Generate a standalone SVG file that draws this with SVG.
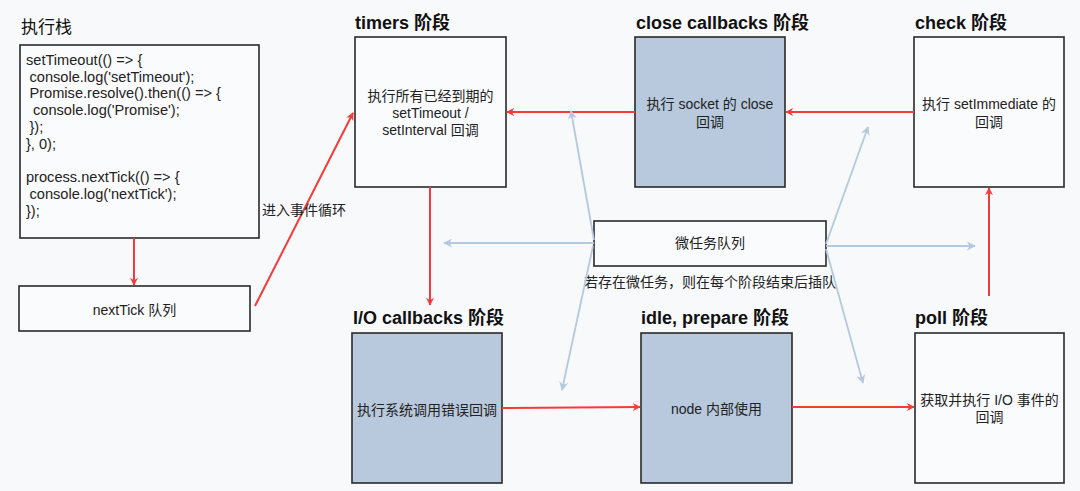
<svg xmlns="http://www.w3.org/2000/svg" width="1080" height="491" viewBox="0 0 1080 491">
<style>
text{font-family:"Liberation Sans","Noto Sans CJK SC",sans-serif;fill:#222;}
.t{font-size:18px;font-weight:bold;fill:#111;}
.b{font-size:14px;text-anchor:middle;}
.c{font-size:14px;}
.k{font-size:14.6px;}
.box{fill:#fafbfc;stroke:#2a2a2a;stroke-width:1.6;}
.blue{fill:#b8c9dd;stroke:#2a2a2a;stroke-width:1.6;}
.r{stroke:#f53a3a;stroke-width:2;fill:none;marker-end:url(#ar);}
.l{stroke:#b5c9de;stroke-width:1.8;fill:none;marker-end:url(#al);}
</style>
<defs>
<marker id="ar" viewBox="0 0 10 10" refX="9" refY="5" markerWidth="8" markerHeight="8" markerUnits="userSpaceOnUse" orient="auto"><path d="M0,0 L10,5 L0,10 L3,5 Z" fill="#f53a3a"/></marker>
<marker id="al" viewBox="0 0 10 10" refX="9" refY="5" markerWidth="9" markerHeight="9" markerUnits="userSpaceOnUse" orient="auto"><path d="M0,0 L10,5 L0,10 L3,5 Z" fill="#b5c9de"/></marker>
</defs>
<rect width="1080" height="491" fill="#f8f9fb"/>
<g id="stack">
<text x="21" y="33" style="font-size:17px;fill:#111">执行栈</text>
<rect class="box" x="20" y="45" width="239" height="193"/>
<text class="k" x="26" y="65">setTimeout(() =&gt; {</text>
<text class="k" x="29.5" y="82">console.log('setTimeout');</text>
<text class="k" x="29.5" y="98">Promise.resolve().then(() =&gt; {</text>
<text class="k" x="33" y="115">console.log('Promise');</text>
<text class="k" x="29.5" y="132">});</text>
<text class="k" x="26" y="149">}, 0);</text>
<text class="k" x="26" y="182">process.nextTick(() =&gt; {</text>
<text class="k" x="29.5" y="199">console.log('nextTick');</text>
<text class="k" x="26" y="216">});</text>
</g>
<g id="nexttick">
<rect class="box" x="19" y="286" width="231" height="45"/>
<text class="b" x="134.5" y="315">nextTick 队列</text>
</g>
<g id="timers">
<text class="t" x="355" y="29">timers 阶段</text>
<rect class="box" x="355" y="37" width="151" height="150"/>
<text class="b" x="430.5" y="101">执行所有已经到期的</text>
<text class="b" x="430.5" y="118">setTimeout /</text>
<text class="b" x="430.5" y="135">setInterval 回调</text>
</g>
<g id="close">
<text class="t" x="636" y="29">close callbacks 阶段</text>
<rect class="blue" x="635" y="37" width="150" height="150"/>
<text class="b" x="710" y="109">执行 socket 的 close</text>
<text class="b" x="710" y="127">回调</text>
</g>
<g id="check">
<text class="t" x="915" y="29">check 阶段</text>
<rect class="box" x="914" y="37" width="150" height="150"/>
<text class="b" x="989" y="109">执行 setImmediate 的</text>
<text class="b" x="989" y="127">回调</text>
</g>
<g id="microtask">
<rect class="box" x="594" y="221" width="232" height="45"/>
<text class="b" x="710" y="248">微任务队列</text>
<text class="b" x="710" y="287">若存在微任务，则在每个阶段结束后插队</text>
</g>
<g id="io">
<text class="t" x="353" y="324">I/O callbacks 阶段</text>
<rect class="blue" x="352" y="333" width="150" height="150"/>
<text class="b" x="427" y="415">执行系统调用错误回调</text>
</g>
<g id="idle">
<text class="t" x="641" y="324">idle, prepare 阶段</text>
<rect class="blue" x="641" y="333" width="151" height="150"/>
<text class="b" x="716.5" y="414">node 内部使用</text>
</g>
<g id="poll">
<text class="t" x="915" y="324">poll 阶段</text>
<rect class="box" x="915" y="333" width="149" height="150"/>
<text class="b" x="989.5" y="405">获取并执行 I/O 事件的</text>
<text class="b" x="989.5" y="422">回调</text>
</g>
<g id="connectors">
<line class="r" x1="134" y1="238" x2="134" y2="285"/>
<line class="r" x1="255" y1="306" x2="353" y2="113"/>
<text class="c" x="262" y="215">进入事件循环</text>
<line class="r" x1="914" y1="112" x2="786" y2="112"/>
<line class="r" x1="635" y1="112" x2="507" y2="112"/>
<line class="r" x1="430" y1="187" x2="430" y2="305"/>
<line class="r" x1="502" y1="408" x2="640" y2="407"/>
<line class="r" x1="792" y1="407" x2="914" y2="407"/>
<line class="r" x1="989" y1="296" x2="989" y2="188"/>
<line class="l" x1="594" y1="243" x2="444" y2="243"/>
<line class="l" x1="826" y1="246" x2="975" y2="246"/>
<line class="l" x1="594" y1="240" x2="571" y2="111"/>
<line class="l" x1="593" y1="246" x2="562" y2="390"/>
<line class="l" x1="826" y1="244" x2="868" y2="127"/>
<line class="l" x1="826" y1="249" x2="863" y2="383"/>
</g>
</svg>
